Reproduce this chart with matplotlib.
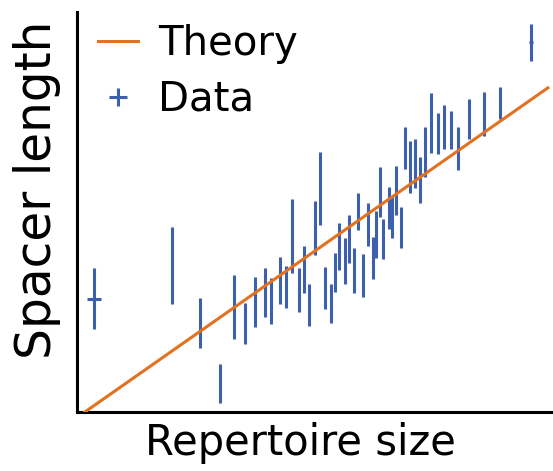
import matplotlib
matplotlib.use("Agg")
import matplotlib.pyplot as plt
from matplotlib.lines import Line2D

# repertoire size (arbitrary units) and mean spacer length with error
rep_size = [3.5, 19.0, 24.6, 28.6, 31.5, 33.7, 35.6, 37.6, 38.9, 40.6,
            41.8, 43.1, 44.4, 45.5, 46.5, 47.6, 48.6, 49.7, 50.8, 51.7,
            52.5, 53.6, 54.5, 55.5, 56.3, 57.3, 58.3, 59.3, 59.9, 60.6,
            61.3, 62.4, 63.1, 63.9, 64.8, 65.7, 66.6, 67.6, 68.6, 69.6,
            70.8, 72.3, 73.5, 74.8, 76.3, 78.4, 81.5, 84.6, 90.9]
spacer_len = [22.7, 29.3, 17.8, 5.7, 21.0, 17.7, 22.0, 23.9, 22.2, 26.3,
              25.0, 35.2, 24.4, 28.5, 21.4, 36.8, 44.7, 24.8, 21.7, 27.9,
              33.1, 30.2, 34.6, 28.3, 40.1, 27.3, 37.5, 30.8, 35.5, 44.0,
              34.6, 40.8, 39.0, 44.3, 36.9, 52.8, 49.0, 49.7, 46.4, 52.0,
              57.8, 55.7, 57.0, 56.4, 52.7, 58.6, 59.6, 61.8, 73.9]
spacer_err = [6.1, 7.7, 5.0, 3.9, 6.4, 4.1, 5.0, 4.9, 4.6, 4.7,
              4.2, 7.4, 4.4, 4.7, 4.2, 5.4, 7.3, 4.2, 3.9, 3.9,
              4.7, 4.6, 4.8, 4.5, 3.7, 4.3, 4.3, 4.2, 4.7, 5.0,
              4.0, 4.2, 4.2, 4.9, 4.1, 4.2, 5.2, 4.9, 4.6, 5.0,
              6.0, 4.1, 4.4, 3.8, 4.3, 4.0, 4.4, 3.2, 3.7]
rep_err = [1.4] + [0.0] * 47 + [0.4]

theory_x = [0.0, 94.2]
theory_y = [-1.1, 64.8]

blue = "#3c5fae"
orange = "#e2721f"

fig = plt.figure(figsize=(5.53, 4.71), dpi=100)
ax = fig.add_axes([0.139, 0.125, 0.859, 0.85])

ax.plot(theory_x, theory_y, color=orange, lw=2.2, label="Theory", zorder=3)
ax.errorbar(rep_size, spacer_len, yerr=spacer_err, xerr=rep_err,
            fmt="none", ecolor=blue, elinewidth=2.2, capsize=0, zorder=2)

ax.set_xlim(0, 95)
ax.set_ylim(0, 80)
ax.set_xticks([])
ax.set_yticks([])
for s in ["top", "right"]:
    ax.spines[s].set_visible(False)
for s in ["left", "bottom"]:
    ax.spines[s].set_linewidth(2.2)

ax.set_xlabel("Repertoire size", fontsize=30)
ax.set_ylabel("Spacer length", fontsize=35)
ax.xaxis.set_label_coords(0.47, -0.025, transform=ax.transAxes)
ax.xaxis.label.set_verticalalignment("top")
ax.yaxis.set_label_coords(-0.033, 0.555, transform=ax.transAxes)
ax.yaxis.label.set_verticalalignment("bottom")

handles = [Line2D([], [], color=orange, lw=2.2),
           Line2D([], [], color=blue, ls="none", marker="+",
                  markersize=13, markeredgewidth=2.2)]
ax.legend(handles, ["Theory", "Data"], loc="upper left", frameon=False,
          fontsize=29, handlelength=1.0, handletextpad=0.5,
          labelspacing=0.4, borderaxespad=0.0, bbox_to_anchor=(0.01, 1.01))

fig.savefig("out.png", dpi=100)
